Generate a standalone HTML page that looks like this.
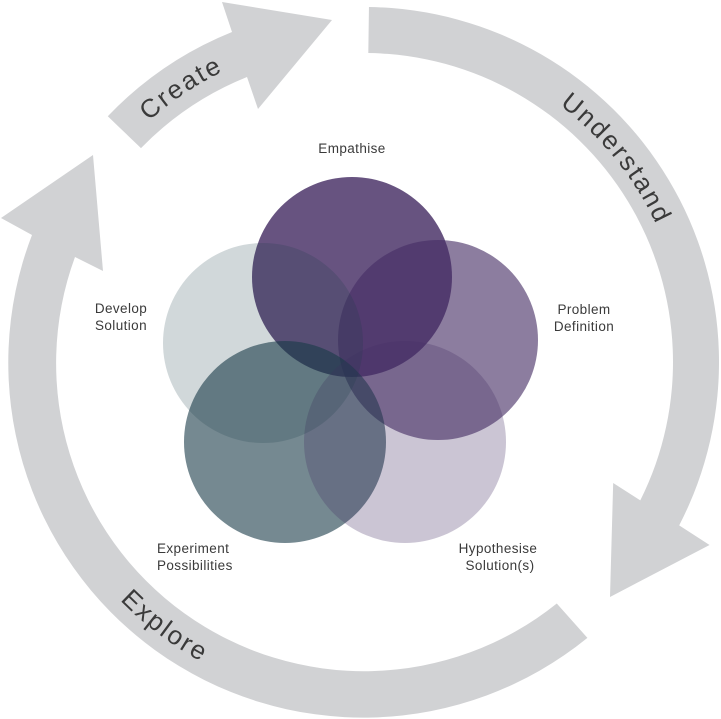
<!DOCTYPE html>
<html>
<head>
<meta charset="utf-8">
<style>
  html, body { margin: 0; padding: 0; background: #ffffff; }
  body { width: 721px; height: 719px; overflow: hidden; }
  svg { display: block; }
  .lbl { font-family: "Liberation Sans", sans-serif; font-size: 13.5px; fill: #3a3a3a; letter-spacing: 0.4px; }
  .arc { font-family: "Liberation Sans", sans-serif; font-size: 26px; fill: #3a3a3a; letter-spacing: 2.2px; }
</style>
</head>
<body>
<svg width="721" height="719" viewBox="0 0 721 719" xmlns="http://www.w3.org/2000/svg">
  <defs>
    <path id="pU" d="M398.60,40.86 A323,323 0 0 1 685.14,396.60"/>
    <path id="pC" d="M47.26,298.71 A323,323 0 0 1 427.29,45.26"/>
    <path id="pE" d="M26.32,409.46 A341,341 0 0 0 411.46,699.68"/>
  </defs>

  <!-- Understand arrow -->
  <path fill="#d1d2d4" d="M368.96,7.03 A355,355 0 0 1 679.18,525.37 L709.55,544.96 L610,597 L613.18,482.99 L640.29,500.36 A309,309 0 0 0 368.31,53.03 Z"/>
  <!-- Explore arrow -->
  <path fill="#d1d2d4" d="M587.41,637.89 A355,355 0 0 1 32,235 L1,218 L93,155 L103,271 L75,257 A308,308 0 0 0 556.78,603.49 Z"/>
  <!-- Create arrow -->
  <path fill="#d1d2d4" d="M107.78,116.29 A355,355 0 0 1 232,32 L222,2 L332,20 L258,109 L247,77 A308,308 0 0 0 140.98,148.13 Z"/>

  <text class="arc"><textPath href="#pU" startOffset="50%" text-anchor="middle">Understand</textPath></text>
  <text class="arc"><textPath href="#pC" startOffset="50%" text-anchor="middle">Create</textPath></text>
  <text class="arc"><textPath href="#pE" startOffset="50%" text-anchor="middle">Explore</textPath></text>

  <!-- Circles -->
  <circle cx="352" cy="277" r="100" fill="#462d64" fill-opacity="0.82"/>
  <circle cx="438" cy="340" r="100" fill="#462d64" fill-opacity="0.62"/>
  <circle cx="285" cy="442" r="101" fill="#193a48" fill-opacity="0.6"/>
  <circle cx="405" cy="442" r="101" fill="#462d64" fill-opacity="0.28"/>
  <circle cx="263" cy="343" r="100" fill="#193a48" fill-opacity="0.2"/>

  <!-- Labels -->
  <text class="lbl" x="352" y="153" text-anchor="middle">Empathise</text>
  <text class="lbl" x="584" y="314" text-anchor="middle">Problem</text>
  <text class="lbl" x="584" y="331" text-anchor="middle">Definition</text>
  <text class="lbl" x="121" y="313" text-anchor="middle">Develop</text>
  <text class="lbl" x="121" y="330" text-anchor="middle">Solution</text>
  <text class="lbl" x="157" y="553">Experiment</text>
  <text class="lbl" x="157" y="570">Possibilities</text>
  <text class="lbl" x="498" y="553" text-anchor="middle">Hypothesise</text>
  <text class="lbl" x="500" y="570" text-anchor="middle">Solution(s)</text>
</svg>
</body>
</html>
